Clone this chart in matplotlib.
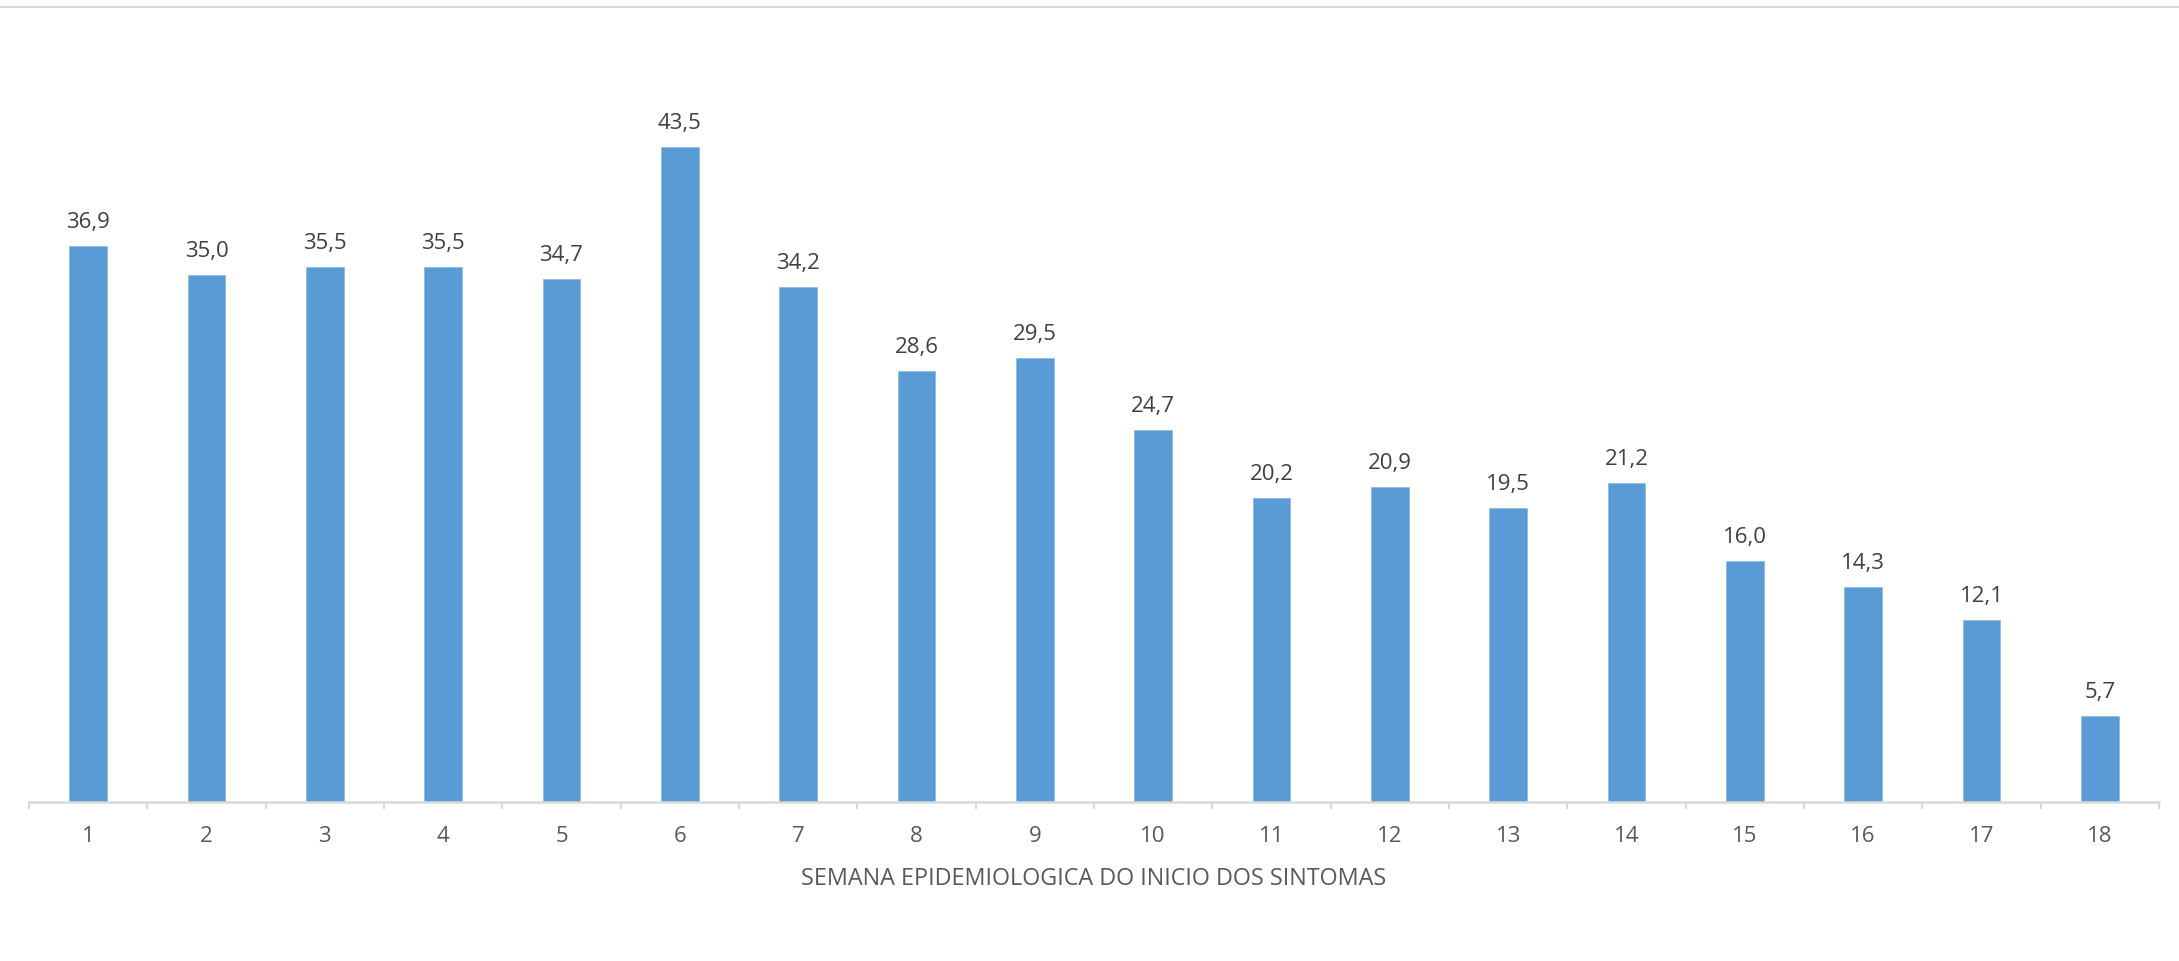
import numpy as np
import matplotlib.pyplot as plt
from matplotlib.lines import Line2D

# weekly values
weeks = [str(i) for i in range(1, 19)]
values = [36.9, 35.0, 35.5, 35.5, 34.7, 43.5, 34.2, 28.6, 29.5,
          24.7, 20.2, 20.9, 19.5, 21.2, 16.0, 14.3, 12.1, 5.7]
x_title = "SEMANA EPIDEMIOLOGICA DO INICIO DOS SINTOMAS"

bar_color = "#5B9BD5"
grid_gray = "#D9D9D9"
text_gray = "#595959"
label_gray = "#404040"

plt.rcParams["font.family"] = ["Open Sans", "DejaVu Sans"]

W, H = 2179, 961
fig = plt.figure(figsize=(W / 100, H / 100), dpi=100)
ax = fig.add_axes([29 / W, 1 - 802 / H, (2159 - 29) / W, (802 - 49) / H])

pos = np.arange(1, len(values) + 1)
ax.bar(pos, values, width=0.32, color=bar_color, edgecolor="#8FBBE3", linewidth=0.6, zorder=2)

for p, v in zip(pos, values):
    ax.annotate(f"{v:.1f}".replace(".", ","), (p, v), xytext=(0, 13),
                textcoords="offset points", ha="center", va="baseline",
                fontsize=16, color=label_gray)

ax.set_xlim(0.5, len(values) + 0.5)
ax.set_ylim(0, 50)
ax.set_yticks([])

ax.set_xticks(pos)
ax.set_xticklabels(weeks, fontsize=16, color=text_gray)
ax.tick_params(axis="x", which="major", length=0, pad=17)
ax.set_xticks(np.arange(0.5, len(values) + 1), minor=True)
ax.tick_params(axis="x", which="minor", length=5, width=1.5, color=grid_gray)

for side in ["top", "right", "left"]:
    ax.spines[side].set_visible(False)
ax.spines["bottom"].set_color(grid_gray)
ax.spines["bottom"].set_linewidth(1.8)

ax.set_xlabel(x_title, fontsize=16.8, color=text_gray, labelpad=15)

# thin rule along the top edge
fig.add_artist(Line2D([0, 1], [1 - 7 / H, 1 - 7 / H], color=grid_gray, linewidth=1.5,
                      transform=fig.transFigure))

fig.savefig("out.png", dpi=100, facecolor="white")
